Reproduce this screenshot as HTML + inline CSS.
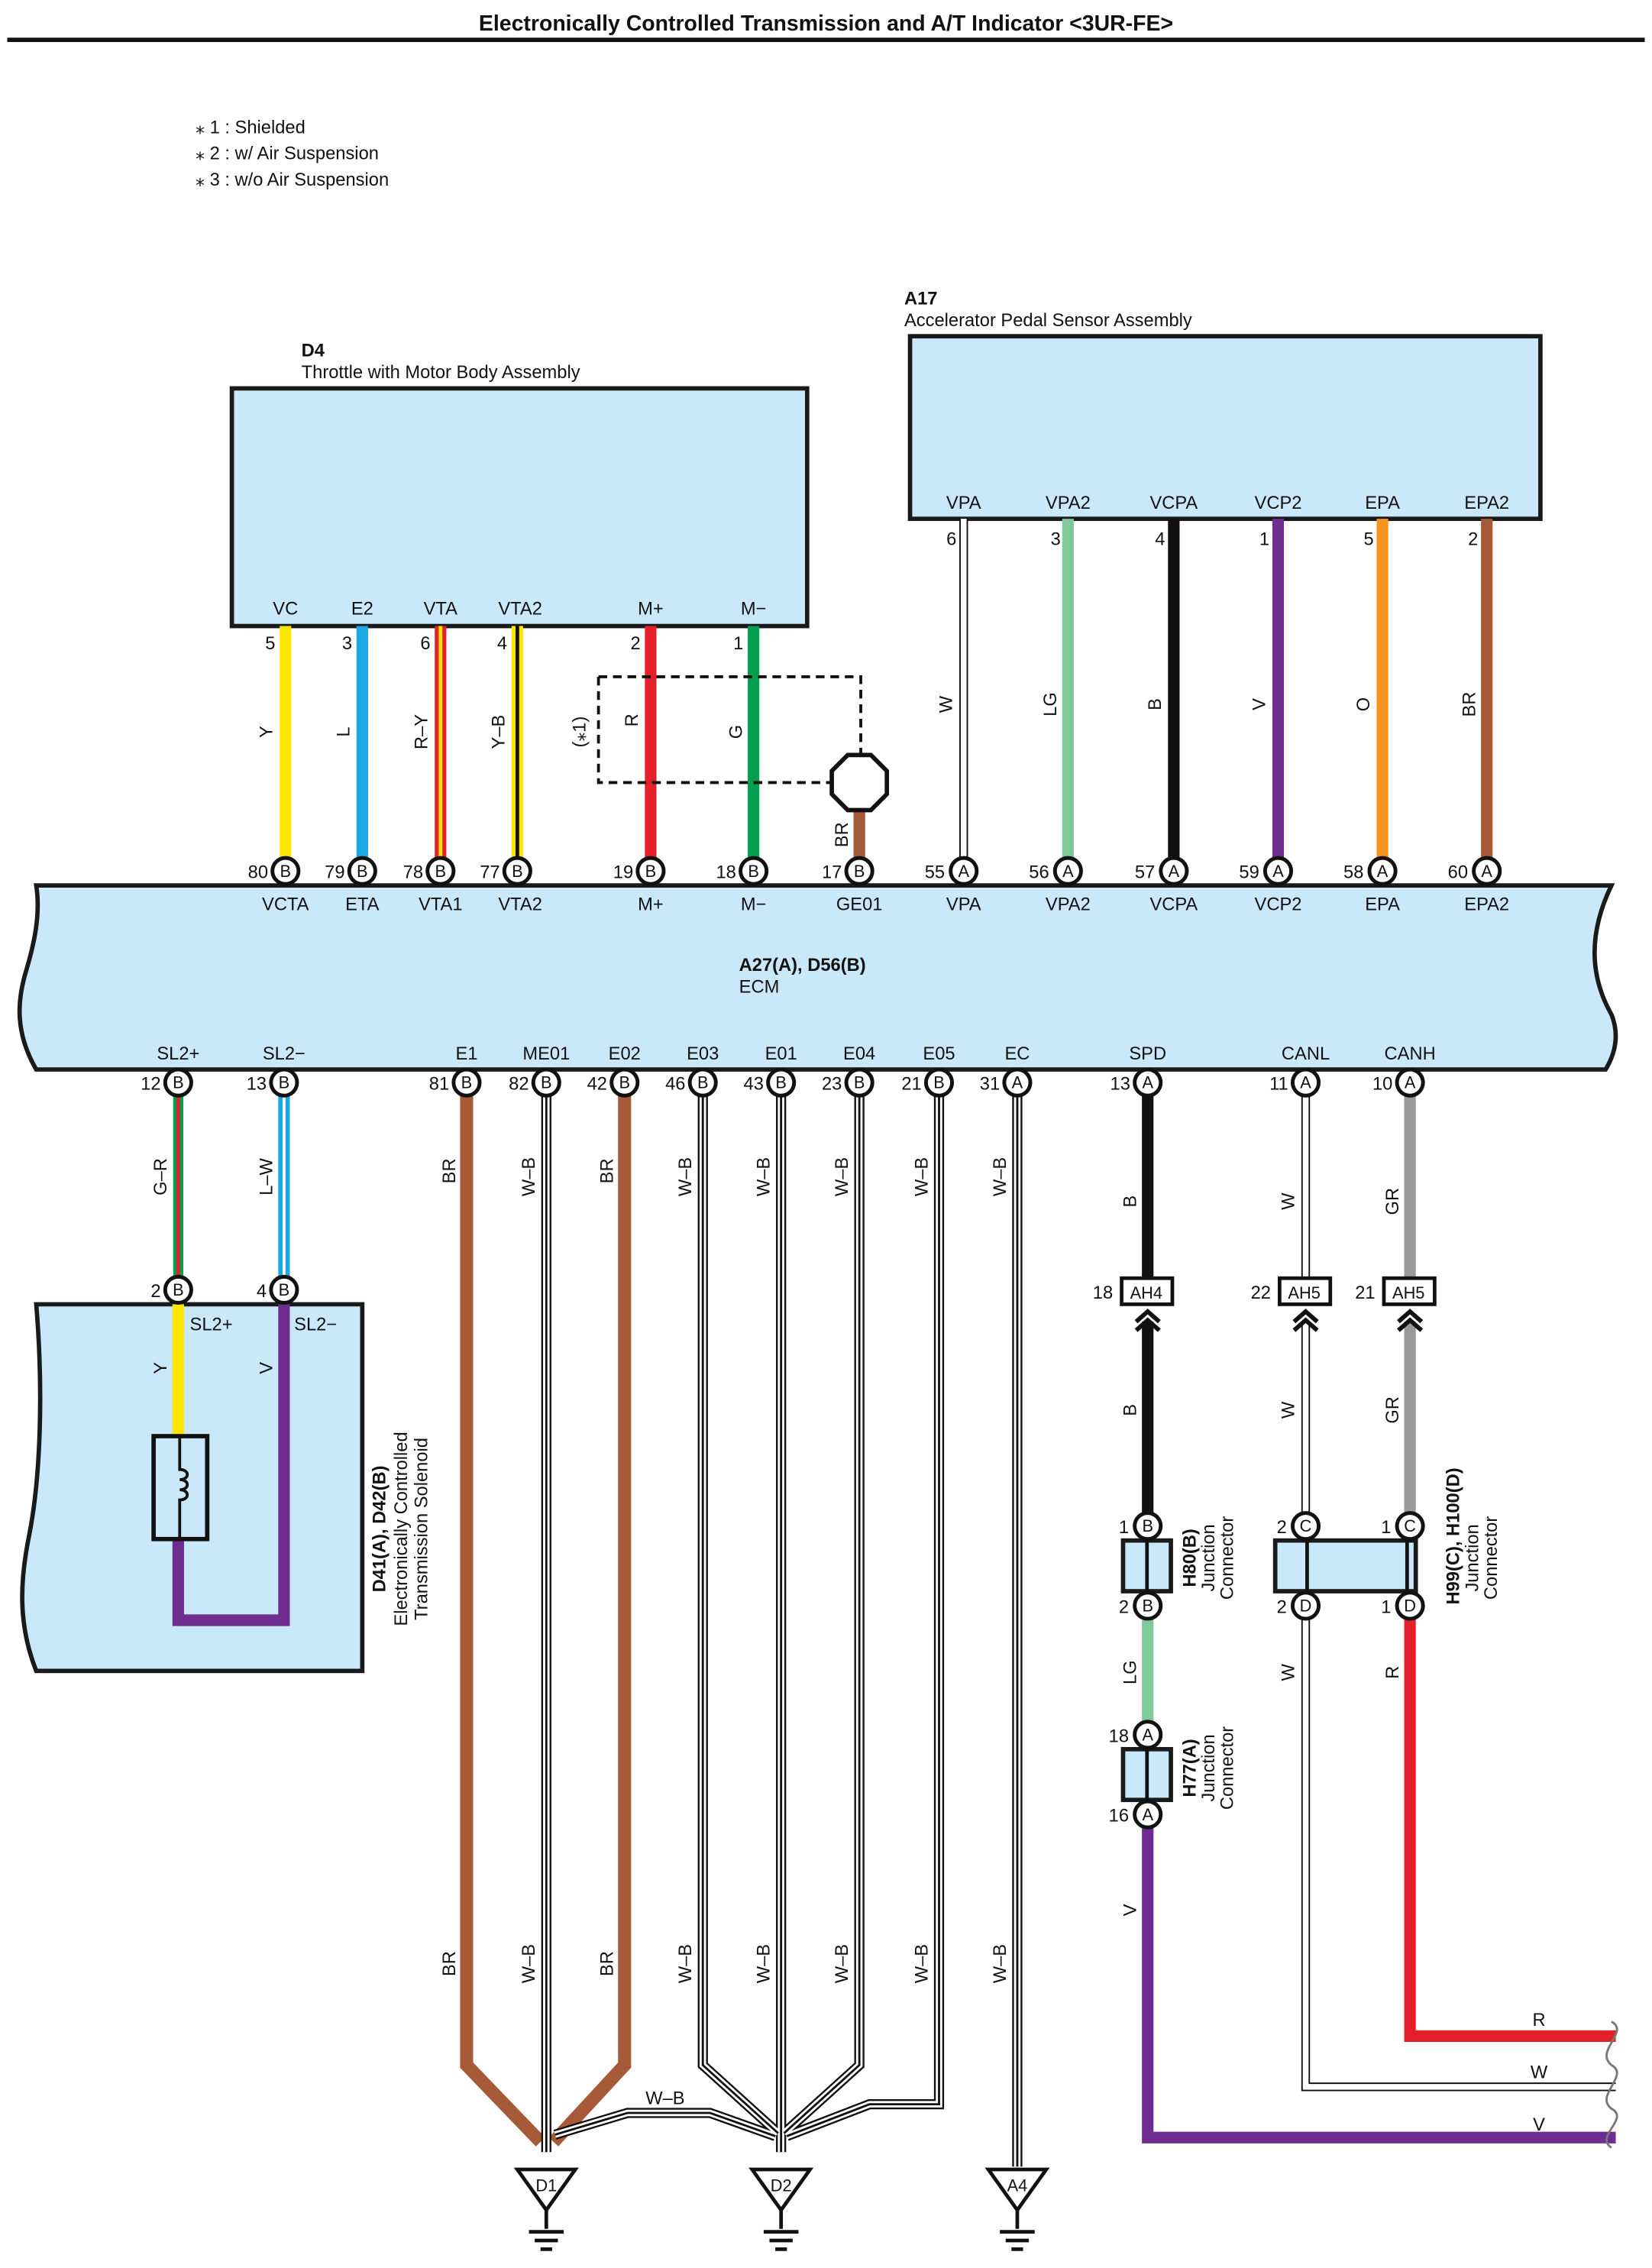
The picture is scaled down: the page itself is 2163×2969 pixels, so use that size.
<!DOCTYPE html>
<html><head><meta charset="utf-8">
<style>
html,body{margin:0;padding:0;background:#fff;}
svg{display:block;}
text{font-family:"Liberation Sans Narrow","Liberation Sans",sans-serif;fill:#111;}
.t{font-size:12.5px;}
.n{font-size:12.5px;text-anchor:end;}
.c{font-size:12.5px;text-anchor:middle;}
.pl{font-size:11.5px;text-anchor:middle;}
.b{font-weight:bold;}
.pc{fill:#fff;stroke:#111;stroke-width:2.6;}
.box{fill:#c9e9fa;stroke:#1a1a1a;stroke-width:3;}
</style></head><body>
<svg width="2163" height="2969" viewBox="0 0 1140 1565" preserveAspectRatio="none" xmlns="http://www.w3.org/2000/svg">
<rect width="1140" height="1565" fill="#fff"/>
<text x="570" y="21" text-anchor="middle" style="font-family:'Liberation Sans',sans-serif;font-weight:bold;font-size:15px">Electronically Controlled Transmission and A/T Indicator &lt;3UR-FE&gt;</text>
<rect x="5" y="26" width="1130" height="3" fill="#111"/>
<text x="135" y="92" class="t">⁎ 1 : Shielded</text>
<text x="135" y="110" class="t">⁎ 2 : w/ Air Suspension</text>
<text x="135" y="128" class="t">⁎ 3 : w/o Air Suspension</text>

<text x="208" y="246" class="t b">D4</text>
<text x="208" y="261" class="t">Throttle with Motor Body Assembly</text>
<rect x="160" y="268" width="397" height="164" class="box"/>
<text x="624" y="210" class="t b">A17</text>
<text x="624" y="225" class="t">Accelerator Pedal Sensor Assembly</text>
<rect x="628" y="232" width="435" height="126" class="box"/>

<g stroke-linecap="butt" fill="none">
<line x1="197" y1="432" x2="197" y2="593" stroke="#ffe600" stroke-width="8"/>
<line x1="250" y1="432" x2="250" y2="593" stroke="#1ba9e6" stroke-width="8"/>
<line x1="304" y1="432" x2="304" y2="593" stroke="#e4202a" stroke-width="8"/>
<line x1="304" y1="432" x2="304" y2="593" stroke="#ffe600" stroke-width="2.5"/>
<line x1="357" y1="432" x2="357" y2="593" stroke="#ffe600" stroke-width="8"/>
<line x1="357" y1="432" x2="357" y2="593" stroke="#111" stroke-width="2.5"/>
<line x1="449" y1="432" x2="449" y2="593" stroke="#e4202a" stroke-width="8"/>
<line x1="520" y1="432" x2="520" y2="593" stroke="#00a04f" stroke-width="8"/>
<line x1="593" y1="558" x2="593" y2="593" stroke="#a65a37" stroke-width="8"/>
<line x1="665" y1="358" x2="665" y2="593" stroke="#111" stroke-width="6"/>
<line x1="665" y1="358" x2="665" y2="593" stroke="#fff" stroke-width="4"/>
<line x1="737" y1="358" x2="737" y2="593" stroke="#80c99a" stroke-width="8"/>
<line x1="810" y1="358" x2="810" y2="593" stroke="#111" stroke-width="8"/>
<line x1="882" y1="358" x2="882" y2="593" stroke="#6f2c91" stroke-width="8"/>
<line x1="954" y1="358" x2="954" y2="593" stroke="#f7941d" stroke-width="8"/>
<line x1="1026" y1="358" x2="1026" y2="593" stroke="#a65a37" stroke-width="8"/>
<path d="M413,467 H594 V521 M413,467 V540 H574" stroke="#111" stroke-width="2" stroke-dasharray="6,4"/>
<polygon points="585,521 601,521 612,532 612,548 601,559 585,559 574,548 574,532" fill="#fff" stroke="#111" stroke-width="3"/>
</g>
<text x="197" y="424" class="c">VC</text><text x="250" y="424" class="c">E2</text><text x="304" y="424" class="c">VTA</text><text x="359" y="424" class="c">VTA2</text><text x="449" y="424" class="c">M+</text><text x="520" y="424" class="c">M−</text>
<text x="665" y="351" class="c">VPA</text><text x="737" y="351" class="c">VPA2</text><text x="810" y="351" class="c">VCPA</text><text x="882" y="351" class="c">VCP2</text><text x="954" y="351" class="c">EPA</text><text x="1026" y="351" class="c">EPA2</text>
<text x="190" y="448" class="n">5</text><text x="243" y="448" class="n">3</text><text x="297" y="448" class="n">6</text><text x="350" y="448" class="n">4</text><text x="442" y="448" class="n">2</text><text x="513" y="448" class="n">1</text>
<text x="660" y="376" class="n">6</text><text x="732" y="376" class="n">3</text><text x="804" y="376" class="n">4</text><text x="876" y="376" class="n">1</text><text x="948" y="376" class="n">5</text><text x="1020" y="376" class="n">2</text>
<g class="t">
<text transform="translate(188,505) rotate(-90)" class="c">Y</text>
<text transform="translate(241,505) rotate(-90)" class="c">L</text>
<text transform="translate(295,505) rotate(-90)" class="c">R–Y</text>
<text transform="translate(348,505) rotate(-90)" class="c">Y–B</text>
<text transform="translate(404,505) rotate(-90)" class="c">(⁎1)</text>
<text transform="translate(440,497) rotate(-90)" class="c">R</text>
<text transform="translate(512,505) rotate(-90)" class="c">G</text>
<text transform="translate(585,576) rotate(-90)" class="c">BR</text>
<text transform="translate(657,486) rotate(-90)" class="c">W</text>
<text transform="translate(729,486) rotate(-90)" class="c">LG</text>
<text transform="translate(801,486) rotate(-90)" class="c">B</text>
<text transform="translate(873,486) rotate(-90)" class="c">V</text>
<text transform="translate(945,486) rotate(-90)" class="c">O</text>
<text transform="translate(1018,486) rotate(-90)" class="c">BR</text>
</g>

<path d="M25,611 H1112 C1098,640 1095,670 1112,700 C1118,715 1114,728 1108,738 H25 C10,712 12,690 18,670 C24,650 28,630 25,611 Z" class="box"/>
<text x="510" y="670" class="t b">A27(A), D56(B)</text>
<text x="510" y="685" class="t">ECM</text>
<g>
<circle cx="197" cy="601" r="9" class="pc"/><text x="197" y="605" class="pl">B</text><text x="185" y="606" class="n">80</text>
<circle cx="250" cy="601" r="9" class="pc"/><text x="250" y="605" class="pl">B</text><text x="238" y="606" class="n">79</text>
<circle cx="304" cy="601" r="9" class="pc"/><text x="304" y="605" class="pl">B</text><text x="292" y="606" class="n">78</text>
<circle cx="357" cy="601" r="9" class="pc"/><text x="357" y="605" class="pl">B</text><text x="345" y="606" class="n">77</text>
<circle cx="449" cy="601" r="9" class="pc"/><text x="449" y="605" class="pl">B</text><text x="437" y="606" class="n">19</text>
<circle cx="520" cy="601" r="9" class="pc"/><text x="520" y="605" class="pl">B</text><text x="508" y="606" class="n">18</text>
<circle cx="593" cy="601" r="9" class="pc"/><text x="593" y="605" class="pl">B</text><text x="581" y="606" class="n">17</text>
<circle cx="665" cy="601" r="9" class="pc"/><text x="665" y="605" class="pl">A</text><text x="652" y="606" class="n">55</text>
<circle cx="737" cy="601" r="9" class="pc"/><text x="737" y="605" class="pl">A</text><text x="724" y="606" class="n">56</text>
<circle cx="810" cy="601" r="9" class="pc"/><text x="810" y="605" class="pl">A</text><text x="797" y="606" class="n">57</text>
<circle cx="882" cy="601" r="9" class="pc"/><text x="882" y="605" class="pl">A</text><text x="869" y="606" class="n">59</text>
<circle cx="954" cy="601" r="9" class="pc"/><text x="954" y="605" class="pl">A</text><text x="941" y="606" class="n">58</text>
<circle cx="1026" cy="601" r="9" class="pc"/><text x="1026" y="605" class="pl">A</text><text x="1013" y="606" class="n">60</text>
</g>
<text x="197" y="628" class="c">VCTA</text><text x="250" y="628" class="c">ETA</text><text x="304" y="628" class="c">VTA1</text><text x="359" y="628" class="c">VTA2</text><text x="449" y="628" class="c">M+</text><text x="520" y="628" class="c">M−</text><text x="593" y="628" class="c">GE01</text><text x="665" y="628" class="c">VPA</text><text x="737" y="628" class="c">VPA2</text><text x="810" y="628" class="c">VCPA</text><text x="882" y="628" class="c">VCP2</text><text x="954" y="628" class="c">EPA</text><text x="1026" y="628" class="c">EPA2</text>
<text x="123" y="731" class="c">SL2+</text><text x="196" y="731" class="c">SL2−</text><text x="322" y="731" class="c">E1</text><text x="377" y="731" class="c">ME01</text><text x="431" y="731" class="c">E02</text><text x="485" y="731" class="c">E03</text><text x="539" y="731" class="c">E01</text><text x="593" y="731" class="c">E04</text><text x="648" y="731" class="c">E05</text><text x="702" y="731" class="c">EC</text><text x="792" y="731" class="c">SPD</text><text x="901" y="731" class="c">CANL</text><text x="973" y="731" class="c">CANH</text>

<g fill="none" stroke-linejoin="miter">
<line x1="123" y1="756" x2="123" y2="882" stroke="#00a04f" stroke-width="7"/>
<line x1="123" y1="756" x2="123" y2="882" stroke="#e4202a" stroke-width="2.5"/>
<line x1="196" y1="756" x2="196" y2="882" stroke="#1ba9e6" stroke-width="8"/>
<line x1="196" y1="756" x2="196" y2="882" stroke="#fff" stroke-width="2"/>
<path d="M322,756 V1425 L373,1478" stroke="#a65a37" stroke-width="9"/>
<path d="M431,756 V1425 L382,1478" stroke="#a65a37" stroke-width="9"/>
<path d="M377,756 V1485 M485,756 V1425 L537,1472 M539,756 V1485 M593,756 V1425 L541,1472 M648,756 V1452 H600 L543,1474 M702,756 V1495 M383,1473 L433,1458 H490 L535,1474" stroke="#111" stroke-width="7"/>
<path d="M377,756 V1485 M485,756 V1425 L537,1472 M539,756 V1485 M593,756 V1425 L541,1472 M648,756 V1452 H600 L543,1474 M702,756 V1495 M383,1473 L433,1458 H490 L535,1474" stroke="#fff" stroke-width="4.5"/>
<path d="M377,756 V1485 M485,756 V1425 L537,1472 M539,756 V1485 M593,756 V1425 L541,1472 M648,756 V1452 H600 L543,1474 M702,756 V1495 M383,1473 L433,1458 H490 L535,1474" stroke="#111" stroke-width="1.5"/>
<line x1="792" y1="756" x2="792" y2="882" stroke="#111" stroke-width="8"/>
<line x1="792" y1="912" x2="792" y2="1045" stroke="#111" stroke-width="8"/>
<line x1="792" y1="1116" x2="792" y2="1190" stroke="#80c99a" stroke-width="8"/>
<path d="M792,1260 V1475 H1115" stroke="#6f2c91" stroke-width="8"/>
<path d="M901,756 V882 M901,912 V1045 M901,1116 V1440 H1115" stroke="#111" stroke-width="6"/>
<path d="M901,756 V882 M901,912 V1045 M901,1116 V1440 H1115" stroke="#fff" stroke-width="4"/>
<line x1="973" y1="756" x2="973" y2="882" stroke="#9a9a9a" stroke-width="8"/>
<line x1="973" y1="912" x2="973" y2="1045" stroke="#9a9a9a" stroke-width="8"/>
<path d="M973,1116 V1405 H1115" stroke="#e4202a" stroke-width="8"/>
</g>
<path d="M1112,1395 C1125,1402 1100,1415 1112,1425 C1125,1432 1100,1446 1112,1455 C1125,1462 1100,1474 1112,1482" fill="none" stroke="#777" stroke-width="1.5"/>
<text x="1062" y="1398" class="c">R</text><text x="1062" y="1434" class="c">W</text><text x="1062" y="1470" class="c">V</text>

<g>
<circle cx="123" cy="747" r="9" class="pc"/><text x="123" y="751" class="pl">B</text><text x="111" y="752" class="n">12</text>
<circle cx="196" cy="747" r="9" class="pc"/><text x="196" y="751" class="pl">B</text><text x="184" y="752" class="n">13</text>
<circle cx="322" cy="747" r="9" class="pc"/><text x="322" y="751" class="pl">B</text><text x="310" y="752" class="n">81</text>
<circle cx="377" cy="747" r="9" class="pc"/><text x="377" y="751" class="pl">B</text><text x="365" y="752" class="n">82</text>
<circle cx="431" cy="747" r="9" class="pc"/><text x="431" y="751" class="pl">B</text><text x="419" y="752" class="n">42</text>
<circle cx="485" cy="747" r="9" class="pc"/><text x="485" y="751" class="pl">B</text><text x="473" y="752" class="n">46</text>
<circle cx="539" cy="747" r="9" class="pc"/><text x="539" y="751" class="pl">B</text><text x="527" y="752" class="n">43</text>
<circle cx="593" cy="747" r="9" class="pc"/><text x="593" y="751" class="pl">B</text><text x="581" y="752" class="n">23</text>
<circle cx="648" cy="747" r="9" class="pc"/><text x="648" y="751" class="pl">B</text><text x="636" y="752" class="n">21</text>
<circle cx="702" cy="747" r="9" class="pc"/><text x="702" y="751" class="pl">A</text><text x="690" y="752" class="n">31</text>
<circle cx="792" cy="747" r="9" class="pc"/><text x="792" y="751" class="pl">A</text><text x="780" y="752" class="n">13</text>
<circle cx="901" cy="747" r="9" class="pc"/><text x="901" y="751" class="pl">A</text><text x="889" y="752" class="n">11</text>
<circle cx="973" cy="747" r="9" class="pc"/><text x="973" y="751" class="pl">A</text><text x="961" y="752" class="n">10</text>
</g>
<g>
<text transform="translate(115,812) rotate(-90)" class="c">G–R</text>
<text transform="translate(188,812) rotate(-90)" class="c">L–W</text>
<text transform="translate(314,808) rotate(-90)" class="c">BR</text>
<text transform="translate(369,812) rotate(-90)" class="c">W–B</text>
<text transform="translate(423,808) rotate(-90)" class="c">BR</text>
<text transform="translate(477,812) rotate(-90)" class="c">W–B</text>
<text transform="translate(531,812) rotate(-90)" class="c">W–B</text>
<text transform="translate(585,812) rotate(-90)" class="c">W–B</text>
<text transform="translate(640,812) rotate(-90)" class="c">W–B</text>
<text transform="translate(694,812) rotate(-90)" class="c">W–B</text>
<text transform="translate(314,1355) rotate(-90)" class="c">BR</text>
<text transform="translate(369,1355) rotate(-90)" class="c">W–B</text>
<text transform="translate(423,1355) rotate(-90)" class="c">BR</text>
<text transform="translate(477,1355) rotate(-90)" class="c">W–B</text>
<text transform="translate(531,1355) rotate(-90)" class="c">W–B</text>
<text transform="translate(585,1355) rotate(-90)" class="c">W–B</text>
<text transform="translate(640,1355) rotate(-90)" class="c">W–B</text>
<text transform="translate(694,1355) rotate(-90)" class="c">W–B</text>
<text x="459" y="1452" class="c">W–B</text>
<text transform="translate(784,829) rotate(-90)" class="c">B</text>
<text transform="translate(893,829) rotate(-90)" class="c">W</text>
<text transform="translate(965,829) rotate(-90)" class="c">GR</text>
<text transform="translate(784,973) rotate(-90)" class="c">B</text>
<text transform="translate(893,973) rotate(-90)" class="c">W</text>
<text transform="translate(965,973) rotate(-90)" class="c">GR</text>
<text transform="translate(784,1154) rotate(-90)" class="c">LG</text>
<text transform="translate(893,1154) rotate(-90)" class="c">W</text>
<text transform="translate(965,1154) rotate(-90)" class="c">R</text>
<text transform="translate(784,1318) rotate(-90)" class="c">V</text>
</g>

<path d="M25,900 H250 V1153 H25 C12,1120 14,1090 20,1060 C28,1020 30,960 25,900 Z" class="box"/>
<g fill="none">
<line x1="123" y1="900" x2="123" y2="990" stroke="#ffe600" stroke-width="8"/>
<path d="M196,900 V1118 H123 V1062" stroke="#6f2c91" stroke-width="8"/>
</g>
<rect x="106" y="991" width="37" height="71" fill="#c9e9fa" stroke="#111" stroke-width="3"/>
<path d="M124,992 V1014 C131,1014 131,1021 124,1021 C131,1021 131,1028 124,1028 C131,1028 131,1035 124,1035 V1061" fill="none" stroke="#111" stroke-width="2"/>
<text transform="translate(115,944) rotate(-90)" class="c">Y</text>
<text transform="translate(188,944) rotate(-90)" class="c">V</text>
<text x="131" y="918" class="t">SL2+</text><text x="203" y="918" class="t">SL2−</text>
<circle cx="123" cy="890" r="9" class="pc"/><text x="123" y="894" class="pl">B</text><text x="111" y="895" class="n">2</text>
<circle cx="196" cy="890" r="9" class="pc"/><text x="196" y="894" class="pl">B</text><text x="184" y="895" class="n">4</text>
<text transform="translate(266,1055) rotate(-90)" class="c b">D41(A), D42(B)</text>
<text transform="translate(281,1055) rotate(-90)" class="c">Electronically Controlled</text>
<text transform="translate(295,1055) rotate(-90)" class="c">Transmission Solenoid</text>

<rect x="774" y="882" width="35" height="18" fill="#fff" stroke="#111" stroke-width="2.5"/><text x="791" y="896" class="pl">AH4</text><text x="768" y="896" class="n">18</text>
<rect x="883" y="882" width="35" height="18" fill="#fff" stroke="#111" stroke-width="2.5"/><text x="900" y="896" class="pl">AH5</text><text x="877" y="896" class="n">22</text>
<rect x="955" y="882" width="35" height="18" fill="#fff" stroke="#111" stroke-width="2.5"/><text x="972" y="896" class="pl">AH5</text><text x="949" y="896" class="n">21</text>
<g fill="none" stroke="#111" stroke-width="3">
<path d="M784,912 L792,905 L800,912 M784,918 L792,911 L800,918"/>
<path d="M893,912 L901,905 L909,912 M893,918 L901,911 L909,918"/>
<path d="M965,912 L973,905 L981,912 M965,918 L973,911 L981,918"/>
</g>
<rect x="775" y="1063" width="33" height="35" class="box"/><line x1="791.5" y1="1063" x2="791.5" y2="1098" stroke="#111" stroke-width="2.5"/>
<rect x="775" y="1207" width="33" height="35" class="box"/><line x1="791.5" y1="1207" x2="791.5" y2="1242" stroke="#111" stroke-width="2.5"/>
<rect x="880" y="1063" width="97" height="35" class="box"/><line x1="902" y1="1063" x2="902" y2="1098" stroke="#111" stroke-width="2.5"/><line x1="971" y1="1063" x2="971" y2="1098" stroke="#111" stroke-width="2.5"/>
<g>
<circle cx="792" cy="1053" r="9" class="pc"/><text x="792" y="1057" class="pl">B</text><text x="779" y="1058" class="n">1</text>
<circle cx="792" cy="1108" r="9" class="pc"/><text x="792" y="1112" class="pl">B</text><text x="779" y="1113" class="n">2</text>
<circle cx="792" cy="1197" r="9" class="pc"/><text x="792" y="1201" class="pl">A</text><text x="779" y="1202" class="n">18</text>
<circle cx="792" cy="1252" r="9" class="pc"/><text x="792" y="1256" class="pl">A</text><text x="779" y="1257" class="n">16</text>
<circle cx="901" cy="1053" r="9" class="pc"/><text x="901" y="1057" class="pl">C</text><text x="888" y="1058" class="n">2</text>
<circle cx="901" cy="1108" r="9" class="pc"/><text x="901" y="1112" class="pl">D</text><text x="888" y="1113" class="n">2</text>
<circle cx="973" cy="1053" r="9" class="pc"/><text x="973" y="1057" class="pl">C</text><text x="960" y="1058" class="n">1</text>
<circle cx="973" cy="1108" r="9" class="pc"/><text x="973" y="1112" class="pl">D</text><text x="960" y="1113" class="n">1</text>
</g>
<text transform="translate(825,1075) rotate(-90)" class="c b">H80(B)</text>
<text transform="translate(838,1075) rotate(-90)" class="c">Junction</text>
<text transform="translate(851,1075) rotate(-90)" class="c">Connector</text>
<text transform="translate(825,1220) rotate(-90)" class="c b">H77(A)</text>
<text transform="translate(838,1220) rotate(-90)" class="c">Junction</text>
<text transform="translate(851,1220) rotate(-90)" class="c">Connector</text>
<text transform="translate(1007,1060) rotate(-90)" class="c b">H99(C), H100(D)</text>
<text transform="translate(1020,1075) rotate(-90)" class="c">Junction</text>
<text transform="translate(1033,1075) rotate(-90)" class="c">Connector</text>

<g stroke="#111" stroke-width="2.5" fill="#fff">
<polygon points="357,1497 397,1497 377,1525"/>
<polygon points="519,1497 559,1497 539,1525"/>
<polygon points="682,1497 722,1497 702,1525"/>
<path d="M377,1525 V1538 M365,1540 H389 M369,1546 H385 M373,1552 H381 M539,1525 V1538 M527,1540 H551 M531,1546 H547 M535,1552 H543 M702,1525 V1538 M690,1540 H714 M694,1546 H710 M698,1552 H706" fill="none"/>
</g>
<text x="377" y="1512" class="pl">D1</text><text x="539" y="1512" class="pl">D2</text><text x="702" y="1512" class="pl">A4</text>
</svg>
</body></html>
